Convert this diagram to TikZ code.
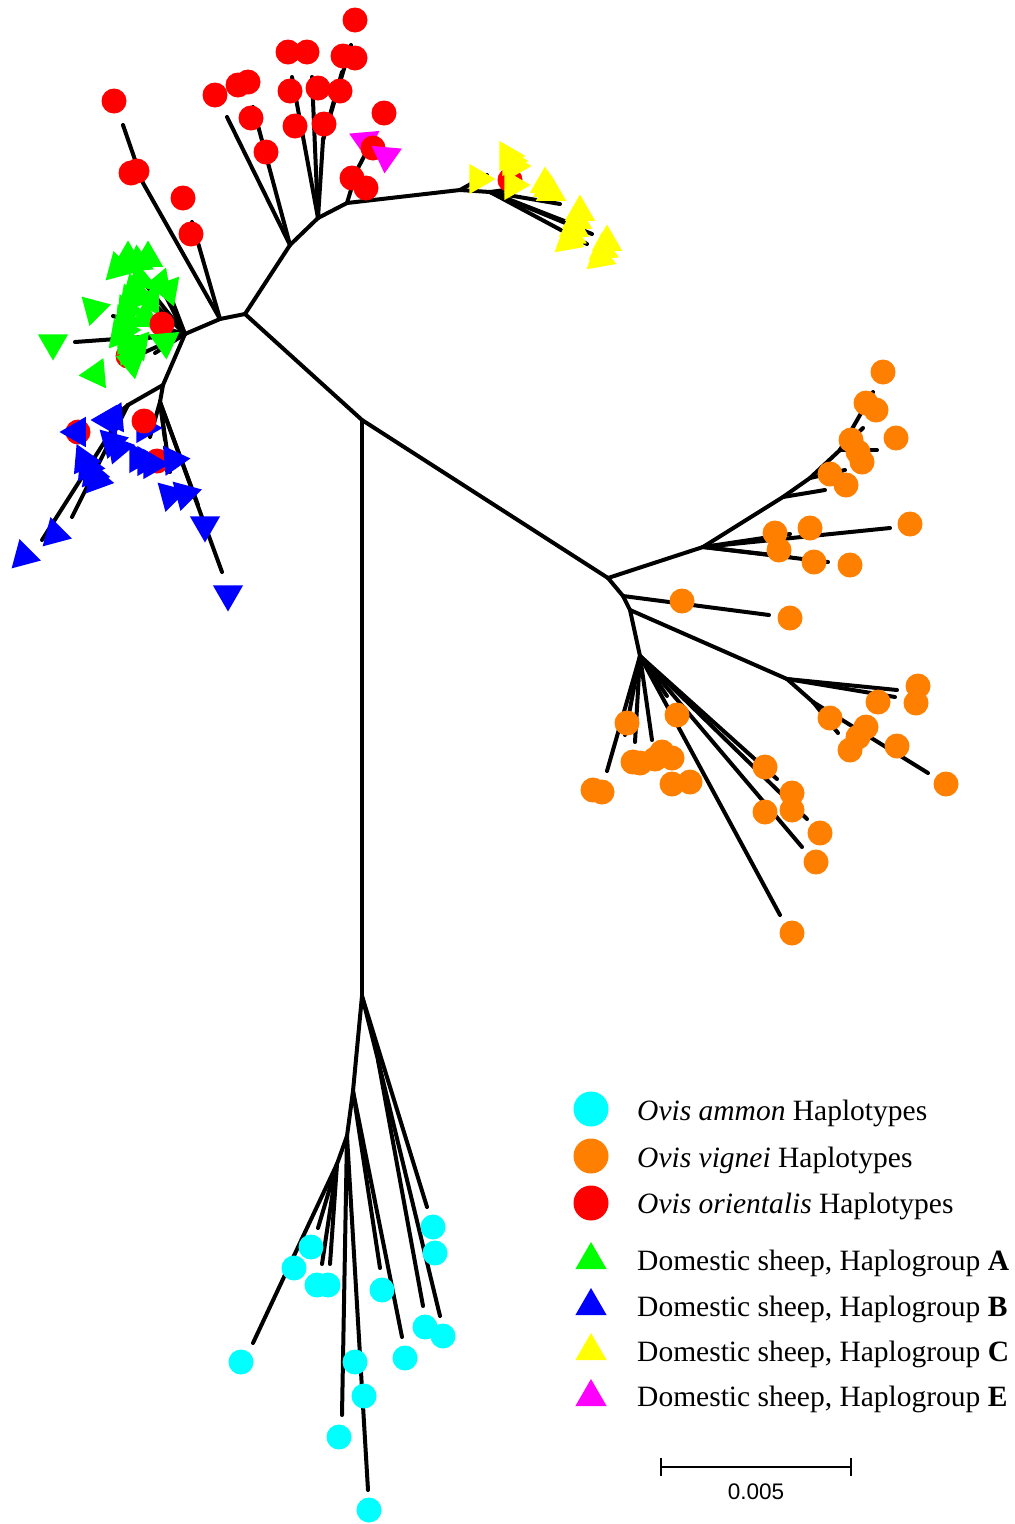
\documentclass[tikz,border=0pt]{standalone}
\usepackage{fontspec}
\setmainfont{Liberation Serif}
\newfontfamily\arialf{Liberation Sans}
\usetikzlibrary{shapes.geometric}
\definecolor{cAmmon}{RGB}{0,255,255}
\definecolor{cVig}{RGB}{255,128,0}
\definecolor{cOri}{RGB}{255,0,0}
\definecolor{cHA}{RGB}{0,255,0}
\definecolor{cHB}{RGB}{0,0,255}
\definecolor{cHC}{RGB}{255,255,0}
\definecolor{cHE}{RGB}{255,0,255}
\newcommand\fanout[2]{\foreach \q in {#2} \draw[br] (#1) -- \q;}
\begin{document}
\begin{tikzpicture}[x=1pt,y=-1pt,
  br/.style={line width=4pt, line cap=round, line join=round},
  trimark/.style={regular polygon, regular polygon sides=3, minimum size=35pt, inner sep=0pt, outer sep=0pt, fill=#1, draw=none},
  legtri/.style={regular polygon, regular polygon sides=3, minimum size=36pt, inner sep=0pt, fill=#1, draw=none},
  legtxt/.style={anchor=base west, inner sep=0pt, font=\fontsize{29.5}{34}\selectfont}]
\fill[white] (0,0) rectangle (1015,1524);
\useasboundingbox (0,0) rectangle (1015,1524);

% ---------- backbone ----------
\coordinate (A) at (362,420);
\coordinate (B) at (362,996);
\coordinate (C) at (245,314);
\coordinate (D) at (608,578);
\draw[br] (C) -- (A) -- (D);
\draw[br] (A) -- (B);

% ---------- upper part ----------
\coordinate (C1) at (220,319);
\coordinate (C2) at (185,334);
\coordinate (C3) at (163,385);
\coordinate (C4) at (160,402);
\coordinate (U1) at (290,245);
\coordinate (U2) at (318,218);
\coordinate (U3) at (347,203);
\coordinate (Y1) at (460,190);
\coordinate (Y2) at (490,192);
\coordinate (BL) at (128,405);
\coordinate (RT) at (323,140);
\coordinate (RL) at (143,183);
\draw[br] (C) -- (C1) -- (C2) -- (C3) -- (C4);
\draw[br] (C) -- (U1) -- (U2) -- (U3) -- (Y1) -- (Y2);
% red clades
\fanout{U1}{(227,117),(253,107)}
\fanout{U2}{(292,77),(312,77)}
\draw[br] (U2) -- (RT);
\fanout{RT}{(351,45),(342,72)}
\draw[br] (U3) -- (357,170) -- (370,145);
\draw[br] (C1) -- (RL) -- (123,125);
\draw[br] (C1) -- (192,222);
% green clade
\fanout{C2}{(75,342),(113,316),(142,280),(158,281),(172,300),(140,322),(143,353),(155,353),(128,340),(150,300)}
% blue clade
\draw[br] (C3) -- (BL);
\fanout{BL}{(42,540),(72,517),(108,422)}
\fanout{C4}{(222,572),(198,505),(170,472),(150,437),(165,440)}
% yellow clade
\draw[br] (Y1) -- (487,175);
\fanout{Y2}{(560,204),(567,222),(592,234),(587,244),(520,188)}

% ---------- orange part ----------
\coordinate (E) at (703,547);
\coordinate (E1) at (783,497);
\coordinate (E2) at (810,478);
\coordinate (E3) at (840,450);
\coordinate (E4) at (860,415);
\coordinate (D2) at (623,596);
\coordinate (D3) at (630,610);
\coordinate (F) at (640,656);
\coordinate (G1) at (787,679);
\coordinate (G2) at (813,702);
\draw[br] (D) -- (E) -- (E1) -- (E2) -- (E3) -- (E4) -- (873,392);
\draw[br] (E1) -- (825,490);
\draw[br] (E2) -- (845,470);
\fanout{E3}{(877,450),(863,428)}
\fanout{E}{(890,528),(790,534),(790,557),(828,562)}
\draw[br] (D) -- (D2) -- (D3) -- (F);
\draw[br] (D2) -- (769,615);
\draw[br] (D3) -- (G1);
\fanout{G1}{(897,690),(895,697),(G2)}
\fanout{G2}{(928,773),(838,733)}
\fanout{F}{(607,771),(625,735),(635,742),(652,740),(667,696),(780,915),(802,847),(777,779),(807,819)}

% ---------- cyan part ----------
\coordinate (B1) at (353,1091);
\coordinate (B2) at (347,1136);
\coordinate (B3) at (337,1164);
\coordinate (BR) at (378,1060);
\draw[br] (B) -- (B1) -- (B2) -- (B3) -- (253,1343);
\fanout{B3}{(322,1264),(330,1264),(318,1228)}
\fanout{B2}{(342,1415),(368,1490)}
\fanout{B1}{(380,1268),(402,1337)}
\fanout{B}{(427,1207),(BR)}
\fanout{BR}{(423,1306),(440,1316)}

% ---------- markers ----------
\foreach \x/\y in {883/372,866/403,876/410,896/438,851/440,858/452,862/462,830/474,846/485,910/524,775/533,779/550,810/528,814/562,850/565,682/601,790/618,878/702,918/686,916/703,830/718,866/727,858/737,850/750,897/746,946/784,627/723,677/715,633/762,640/763,655/759,662/752,672/758,672/784,690/782,593/790,602/792,765/767,792/793,792/810,765/812,820/833,816/862,792/933}
  \fill[cVig] (\x,\y) circle[radius=12.5pt];
\foreach \x/\y in {433/1227,435/1253,311/1247,294/1268,317/1285,328/1285,382/1290,425/1327,443/1336,405/1358,355/1362,364/1396,339/1437,369/1510,241/1362}
  \fill[cAmmon] (\x,\y) circle[radius=12.5pt];
\foreach \x/\y in {355/20,288/52,307/52,343/56,355/58,290/91,318/88,340/91,295/126,324/124,215/95,238/85,248/82,251/118,266/152,384/113,352/178,366/188,114/101,131/173,137/171,183/198,191/234,78/432,157/461,510/180,128/356}
  \fill[cOri] (\x,\y) circle[radius=12.5pt];

\foreach \x/\y/\r [count=\i] in {118/268/15,128/258/0,148/258/0,138/262/5,94/309/-75,53/343/180,96/374/95,168/290/-40,160/284/-20,140/280/10,134/290/15,130/300/20,127/310/25,125/320/25,124/330/30,126/340/30,128/350/35,132/362/190,150/300/-30,145/318/0,120/335/20,138/345/200}
  \node[trimark=cHA, rotate=\r] (ga\i) at (\x,\y) {};
\fill[cOri] (162,324) circle[radius=12.5pt];
\node[trimark=cHA, rotate=185] (gb) at (165,342) {};

\foreach \x/\y/\r [count=\i] in {77/432/90,108/420/90,114/418/95,145/428/-90,112/442/45,118/448/40,84/460/25,88/467/25,93/474/20,97/480/20,138/458/-90,146/461/-90,152/464/-90,173/460/-85,170/495/165,185/494/165,205/525/180,228/594/180,55/534/15,24/556/15}
  \node[trimark=cHB, rotate=\r] (bt\i) at (\x,\y) {};
\fill[cOri] (144,421) circle[radius=12.5pt];

\foreach \x/\y/\r [count=\i] in {478/179/-90,508/156/-90,511/161/-90,514/166/-90,513/185/-90,545/184/0,548/188/0,551/192/0,580/212/0,577/220/0,574/228/0,571/236/5,568/241/10,607/242/0,603/250/5,600/258/10}
  \node[trimark=cHC, rotate=\r] (yt\i) at (\x,\y) {};

\node[trimark=cHE, rotate=185] (m1) at (365,141) {};
\fill[cOri] (373,148) circle[radius=12.5pt];
\node[trimark=cHE, rotate=175] (m2) at (386,156) {};

% ---------- legend ----------
\fill[cAmmon] (591,1109) circle[radius=17.5pt];
\fill[cVig] (591,1156) circle[radius=17.5pt];
\fill[cOri] (591,1203) circle[radius=17.5pt];
\node[legtri=cHA] (la) at (591,1260) {};
\node[legtri=cHB] (lb) at (591,1306) {};
\node[legtri=cHC] (lc) at (591,1351) {};
\node[legtri=cHE] (le) at (591,1397) {};
\node[legtxt] (t1) at (637,1120) {\textit{Ovis ammon} Haplotypes};
\node[legtxt] (t2) at (637,1167) {\textit{Ovis vignei} Haplotypes};
\node[legtxt] (t3) at (637,1213) {\textit{Ovis orientalis} Haplotypes};
\node[legtxt] (t4) at (637,1270) {Domestic sheep, Haplogroup \textbf{A}};
\node[legtxt] (t5) at (637,1316) {Domestic sheep, Haplogroup \textbf{B}};
\node[legtxt] (t6) at (637,1361) {Domestic sheep, Haplogroup \textbf{C}};
\node[legtxt] (t7) at (637,1406) {Domestic sheep, Haplogroup \textbf{E}};

% ---------- scale bar ----------
\coordinate (s1) at (661,1467);
\coordinate (s2) at (851,1467);
\draw[line width=2.5pt] (s1) -- (s2);
\draw[line width=2.5pt] ([yshift=9pt]s1) -- ([yshift=-9pt]s1);
\draw[line width=2.5pt] ([yshift=9pt]s2) -- ([yshift=-9pt]s2);
\node[inner sep=0pt, font=\arialf\fontsize{22.5}{26}\selectfont] (sl) at (756,1492) {0.005};
\end{tikzpicture}
\end{document}
